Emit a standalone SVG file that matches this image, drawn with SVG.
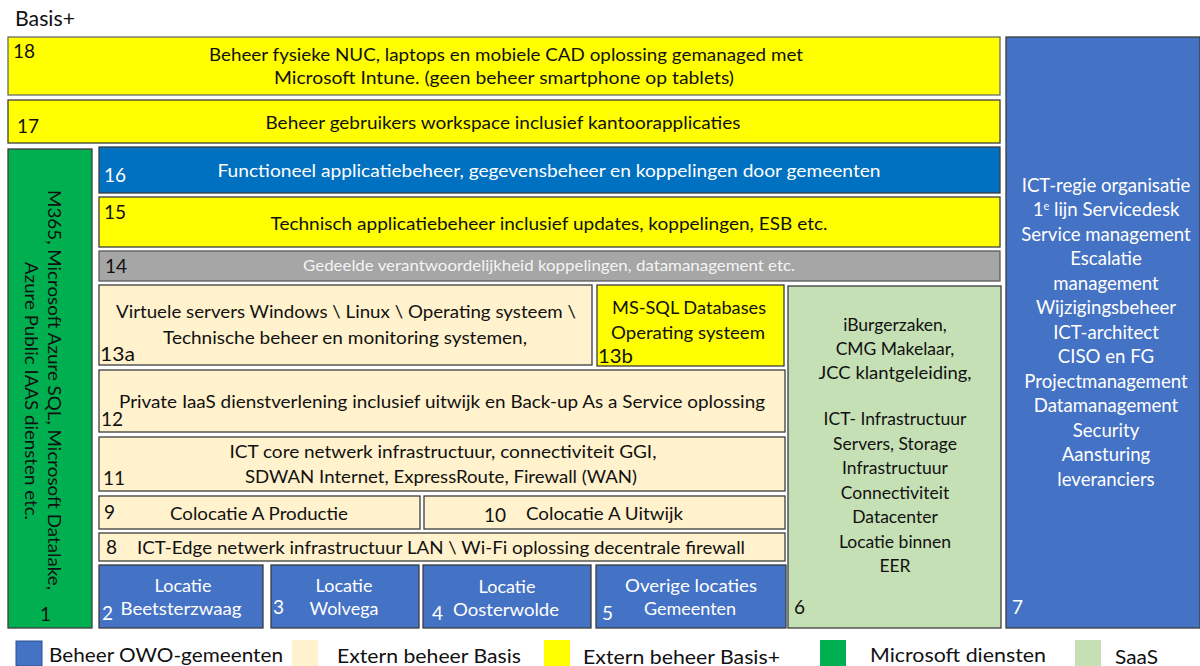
<svg xmlns="http://www.w3.org/2000/svg" width="1200" height="666" viewBox="0 0 1200 666">
<style>
  svg { font-size: 17.5px; }
  text { font-family: Lato, "Open Sans", "Liberation Sans", sans-serif; fill: #111; }
  .c { text-anchor: middle; }
  .w { fill: #ffffff; }
  .n { font-size: 19px; }
  .bx { stroke: #3c3c3c; stroke-width: 1.3; }
  .yel { fill: #FFFF00; }
  .lt { fill: #FFF2CC; }
  .db { fill: #0070C0; }
  .mb { fill: #4472C4; }
  .gr { fill: #A6A6A6; }
  .gn { fill: #00B050; }
  .sa { fill: #C5E0B4; }
  .cond { font-size: 17px; }
  .lg { font-size: 18.5px; }
  .r7 { font-size: 18.6px; }
  .loc { font-size: 18px; }
  .title { font-size: 21px; }
</style>
<rect x="0" y="0" width="1200" height="666" fill="#ffffff"/>
<text class="title" x="15" y="26" textLength="60" lengthAdjust="spacingAndGlyphs">Basis+</text>

<g id="node18">
  <rect class="bx yel" x="8" y="37" width="992" height="58" style="stroke:#6a6a6a"/>
  <text class="n" x="13" y="58">18</text>
  <text class="c" x="506" y="61" textLength="594" lengthAdjust="spacingAndGlyphs">Beheer fysieke NUC, laptops en mobiele CAD oplossing gemanaged met</text>
  <text class="c" x="504" y="84" textLength="460" lengthAdjust="spacingAndGlyphs">Microsoft Intune. (geen beheer smartphone op tablets)</text>
</g>

<g id="node17">
  <rect class="bx yel" x="8" y="100" width="992" height="43"/>
  <text class="n" x="17" y="133">17</text>
  <text class="c" x="503" y="129" textLength="475" lengthAdjust="spacingAndGlyphs">Beheer gebruikers workspace inclusief kantoorapplicaties</text>
</g>

<g id="node1">
  <rect class="bx gn" x="8" y="149" width="84" height="479"/>
  <text class="c" transform="translate(48,390) rotate(90)" textLength="400" lengthAdjust="spacingAndGlyphs">M365, Microsoft Azure SQL, Microsoft Datalake,</text>
  <text class="c" transform="translate(25,391) rotate(90)" textLength="258" lengthAdjust="spacingAndGlyphs">Azure Public IAAS diensten etc.</text>
  <text class="n" x="40" y="621">1</text>
</g>

<g id="node16">
  <rect class="bx db" x="99" y="147" width="901" height="46"/>
  <text class="n w" x="104" y="182">16</text>
  <text class="c w" x="549" y="177" textLength="663" lengthAdjust="spacingAndGlyphs">Functioneel applicatiebeheer, gegevensbeheer en koppelingen door gemeenten</text>
</g>

<g id="node15">
  <rect class="bx yel" x="99" y="197" width="901" height="50"/>
  <text class="n" x="104" y="219">15</text>
  <text class="c" x="549" y="230" textLength="557" lengthAdjust="spacingAndGlyphs">Technisch applicatiebeheer inclusief updates, koppelingen, ESB etc.</text>
</g>

<g id="node14">
  <rect class="bx gr" x="99" y="251" width="901" height="30" style="stroke:#5a5a5a"/>
  <text class="n" x="105" y="273">14</text>
  <text class="c" x="549" y="271" style="font-size:15px;fill:#F4F4F4" textLength="492" lengthAdjust="spacingAndGlyphs">Gedeelde verantwoordelijkheid koppelingen, datamanagement etc.</text>
</g>

<g id="node13a">
  <rect class="bx lt" x="99" y="285" width="493" height="80"/>
  <text class="c cond" x="346" y="318" textLength="460" lengthAdjust="spacingAndGlyphs">Virtuele servers Windows \ Linux \ Operating systeem \</text>
  <text class="c cond" x="345" y="344" textLength="364" lengthAdjust="spacingAndGlyphs">Technische beheer en monitoring systemen,</text>
  <text class="n" x="100" y="361" textLength="35" lengthAdjust="spacingAndGlyphs">13a</text>
</g>

<g id="node13b">
  <rect class="bx yel" x="597" y="285" width="187" height="81"/>
  <text class="c cond" x="689" y="314" textLength="154" lengthAdjust="spacingAndGlyphs">MS-SQL Databases</text>
  <text class="c cond" x="688" y="339" textLength="154" lengthAdjust="spacingAndGlyphs">Operating systeem</text>
  <text class="n" x="598" y="363" textLength="35" lengthAdjust="spacingAndGlyphs">13b</text>
</g>

<g id="node6">
  <rect class="bx sa" x="788" y="286" width="213" height="342"/>
  <text class="c" x="895" y="331">iBurgerzaken,</text>
  <text class="c" x="895" y="355">CMG Makelaar,</text>
  <text class="c" x="895" y="379" textLength="153" lengthAdjust="spacingAndGlyphs">JCC klantgeleiding,</text>
  <text class="c" x="895" y="425">ICT- Infrastructuur</text>
  <text class="c" x="895" y="450">Servers, Storage</text>
  <text class="c" x="895" y="474">Infrastructuur</text>
  <text class="c" x="895" y="499">Connectiviteit</text>
  <text class="c" x="895" y="523">Datacenter</text>
  <text class="c" x="895" y="548">Locatie binnen</text>
  <text class="c" x="895" y="572">EER</text>
  <text class="n" x="794" y="614">6</text>
</g>

<g id="node12">
  <rect class="bx lt" x="99" y="370" width="686" height="62"/>
  <text class="c cond" x="442" y="408" textLength="646" lengthAdjust="spacingAndGlyphs">Private IaaS dienstverlening inclusief uitwijk en Back-up As a Service oplossing</text>
  <text class="n" x="101" y="426">12</text>
</g>

<g id="node11">
  <rect class="bx lt" x="99" y="437" width="686" height="54"/>
  <text class="c cond" x="443" y="458" textLength="427" lengthAdjust="spacingAndGlyphs">ICT core netwerk infrastructuur, connectiviteit GGI,</text>
  <text class="c cond" x="441" y="483" textLength="392" lengthAdjust="spacingAndGlyphs">SDWAN Internet, ExpressRoute, Firewall (WAN)</text>
  <text class="n" x="103" y="485">11</text>
</g>

<g id="node9">
  <rect class="bx lt" x="99" y="496" width="321" height="33"/>
  <text class="n" x="104" y="519">9</text>
  <text class="cond" x="170" y="520" textLength="178" lengthAdjust="spacingAndGlyphs">Colocatie A Productie</text>
</g>

<g id="node10">
  <rect class="bx lt" x="424" y="496" width="361" height="33"/>
  <text class="n" x="484" y="522">10</text>
  <text class="cond" x="526" y="520" textLength="157" lengthAdjust="spacingAndGlyphs">Colocatie A Uitwijk</text>
</g>

<g id="node8">
  <rect class="bx lt" x="99" y="533" width="686" height="28"/>
  <text class="n" x="106" y="554">8</text>
  <text class="cond" x="137" y="554" textLength="608" lengthAdjust="spacingAndGlyphs">ICT-Edge netwerk infrastructuur LAN \ Wi-Fi oplossing decentrale firewall</text>
</g>

<g id="node2">
  <rect class="bx mb" x="99" y="565" width="164" height="63"/>
  <text class="c w loc" x="183" y="592">Locatie</text>
  <text class="c w loc" x="181" y="615" textLength="121" lengthAdjust="spacingAndGlyphs">Beetsterzwaag</text>
  <text class="n w" x="102" y="620">2</text>
</g>

<g id="node3">
  <rect class="bx mb" x="271" y="565" width="148" height="63"/>
  <text class="c w loc" x="344" y="592">Locatie</text>
  <text class="c w loc" x="344" y="615">Wolvega</text>
  <text class="n w" x="273" y="614">3</text>
</g>

<g id="node4">
  <rect class="bx mb" x="423" y="565" width="168" height="63"/>
  <text class="c w loc" x="507" y="593">Locatie</text>
  <text class="c w loc" x="506" y="616" textLength="106" lengthAdjust="spacingAndGlyphs">Oosterwolde</text>
  <text class="n w" x="432" y="620">4</text>
</g>

<g id="node5">
  <rect class="bx mb" x="596" y="565" width="190" height="63"/>
  <text class="c w loc" x="691" y="592" textLength="132" lengthAdjust="spacingAndGlyphs">Overige locaties</text>
  <text class="c w loc" x="690" y="615">Gemeenten</text>
  <text class="n w" x="602" y="620">5</text>
</g>

<g id="node7">
  <rect class="bx mb" x="1006" y="37" width="194" height="591"/>
  <text class="c w r7" x="1106" y="192">ICT-regie organisatie</text>
  <text class="c w r7" x="1106" y="216">1<tspan style="font-size:11px" dy="-6">e</tspan><tspan dy="6"> lijn Servicedesk</tspan></text>
  <text class="c w r7" x="1106" y="241">Service management</text>
  <text class="c w r7" x="1106" y="265">Escalatie</text>
  <text class="c w r7" x="1106" y="290">management</text>
  <text class="c w r7" x="1106" y="314">Wijzigingsbeheer</text>
  <text class="c w r7" x="1106" y="339">ICT-architect</text>
  <text class="c w r7" x="1106" y="363">CISO en FG</text>
  <text class="c w r7" x="1106" y="388">Projectmanagement</text>
  <text class="c w r7" x="1106" y="412">Datamanagement</text>
  <text class="c w r7" x="1106" y="437">Security</text>
  <text class="c w r7" x="1106" y="461">Aansturing</text>
  <text class="c w r7" x="1106" y="486">leveranciers</text>
  <text class="n w" x="1012" y="614">7</text>
</g>

<g id="legend">
  <rect class="mb" x="16" y="641" width="26" height="25" style="stroke:#2f4f8f;stroke-width:1"/>
  <text class="lg" x="49" y="662" textLength="234" lengthAdjust="spacingAndGlyphs">Beheer OWO-gemeenten</text>
  <rect class="lt" x="292" y="640" width="26" height="26"/>
  <text class="lg" x="337" y="663" textLength="184" lengthAdjust="spacingAndGlyphs">Extern beheer Basis</text>
  <rect class="yel" x="544" y="640" width="26" height="26"/>
  <text class="lg" x="583" y="664" textLength="197" lengthAdjust="spacingAndGlyphs">Extern beheer Basis+</text>
  <rect class="gn" x="820" y="640" width="26" height="26"/>
  <text class="lg" x="870" y="662" textLength="176" lengthAdjust="spacingAndGlyphs">Microsoft diensten</text>
  <rect class="sa" x="1075" y="640" width="26" height="26"/>
  <text class="lg" x="1115" y="664" textLength="43" lengthAdjust="spacingAndGlyphs">SaaS</text>
</g>
</svg>
